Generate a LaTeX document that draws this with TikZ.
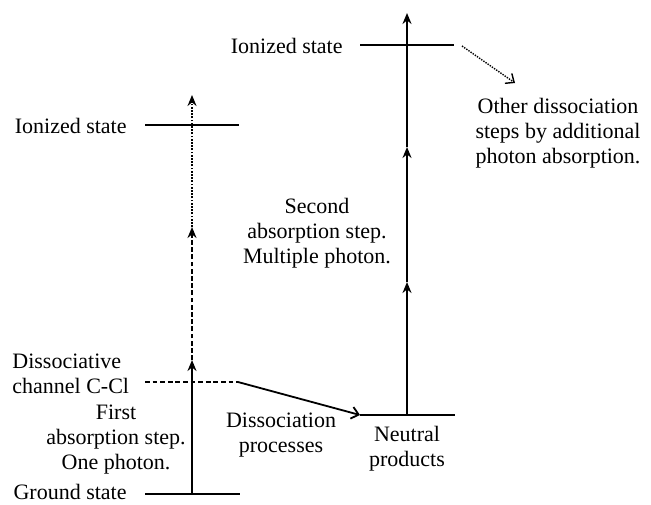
\documentclass[tikz,border=0pt]{standalone}
\usepackage{fontspec}
\setmainfont{Liberation Serif}
\usetikzlibrary{arrows.meta}

\begin{document}
\begin{tikzpicture}[x=0.5pt,y=-0.5pt,
    level/.style={line width=1.4pt},
    txt/.style={font=\fontsize{11}{12.5}\selectfont, align=center, inner sep=0pt},
    photon/.style={line width=0.9pt, -{Stealth[length=5.5pt,width=4.5pt,inset=1.8pt]}},
    barb/.style={-{Straight Barb[length=3.5pt,width=6pt]}}]
  \useasboundingbox (0,0) rectangle (651,504);
  %%%%% THE LEVELS
  \coordinate (G1) at (145,494);  \coordinate (G2) at (240,494);
  \coordinate (D1) at (145,382);  \coordinate (D2) at (238,382);
  \coordinate (IL1) at (145,125); \coordinate (IL2) at (239,125);
  \coordinate (N1) at (360,415);  \coordinate (N2) at (455,415);
  \coordinate (IR1) at (360,45);  \coordinate (IR2) at (454,45);
  \draw[level] (G1) -- (G2);
  \draw[line width=0.9pt, dash pattern=on 2.4pt off 1.4pt] (D1) -- (D2);
  \draw[level] (IL1) -- (IL2);
  \draw[level] (N1) -- (N2);
  \draw[level] (IR1) -- (IR2);
  %%%%% THE PHOTON STEPS
  \coordinate (L0) at (192,494); \coordinate (L1) at (192,360);
  \coordinate (L2) at (192,227); \coordinate (L3) at (192,95);
  \draw[photon] (L0) -- (L1);
  \draw[photon, dash pattern=on 2.4pt off 1.2pt] (L1) -- (L2);
  \draw[photon, dash pattern=on 0.9pt off 0.7pt, line width=0.8pt] (L2) -- (L3);
  \coordinate (R0) at (407,415); \coordinate (R1) at (407,282);
  \coordinate (R2) at (407,147); \coordinate (R3) at (407,13);
  \draw[photon] (R0) -- (R1);
  \draw[photon] (R1) -- (R2);
  \draw[photon] (R2) -- (R3);
  % Links between the levels
  \draw[line width=0.9pt, barb] (D2) -- (N1);
  \coordinate (O1) at (462,46); \coordinate (O2) at (515,83);
  \draw[line width=0.7pt, dash pattern=on 0.7pt off 0.6pt, barb] (O1) -- (O2);
  %%%%% THE TEXTS
  \node[txt, anchor=east] (ground) at (127,492) {Ground state};
  \node[txt, anchor=west, align=left] (channel) at (12,374) {Dissociative\\channel C-Cl};
  \node[txt] (first) at (116,440) {First\\absorption step.\\One photon.};
  \node[txt, anchor=east] (ionL) at (127,126) {Ionized state};
  \node[txt] (process) at (281,435) {Dissociation\\processes};
  \node[txt] (neutral) at (407,449) {Neutral\\products};
  \node[txt] (second) at (317,233) {Second\\absorption step.\\Multiple photon.};
  \node[txt, anchor=east] (ionR) at (343,46) {Ionized state};
  \node[txt] (other) at (558,133) {Other dissociation\\steps by additional\\photon absorption.};
\end{tikzpicture}
\end{document}
